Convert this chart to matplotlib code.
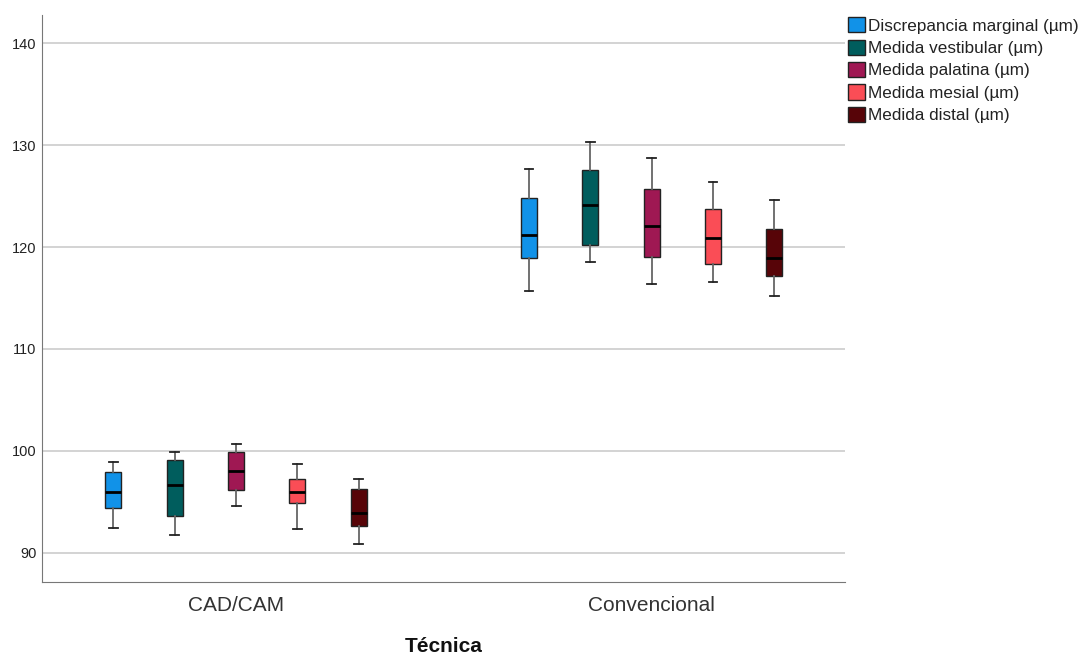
import matplotlib
matplotlib.use('Agg')
import matplotlib.pyplot as plt
from matplotlib.patches import Patch

plt.rcParams['font.family'] = ['Liberation Sans', 'DejaVu Sans']

grupos = ["CAD/CAM", "Convencional"]
series = ["Discrepancia marginal (µm)", "Medida vestibular (µm)", "Medida palatina (µm)",
          "Medida mesial (µm)", "Medida distal (µm)"]
colores = ["#1192e8", "#005d5d", "#9f1853", "#fa4d56", "#570408"]

# [whisker low, Q1, median, Q3, whisker high] per series, per group
cadcam = [
    [92.4, 94.4, 95.95, 97.9, 98.95],
    [91.8, 93.6, 96.7, 99.1, 99.9],
    [94.6, 96.2, 98.0, 99.9, 100.7],
    [92.3, 94.9, 96.0, 97.2, 98.7],
    [90.9, 92.6, 93.95, 96.3, 97.2],
]
convencional = [
    [115.65, 118.9, 121.2, 124.8, 127.65],
    [118.5, 120.15, 124.15, 127.6, 130.3],
    [116.4, 119.0, 122.1, 125.65, 128.75],
    [116.55, 118.3, 120.9, 123.7, 126.4],
    [115.2, 117.2, 118.95, 121.75, 124.65],
]

fig = plt.figure(figsize=(10.8, 6.55), dpi=100)
ax = fig.add_axes([0.0389, 0.1115, 0.7435, 0.8655])

offset = 0.1476
ancho = 0.0385
for g, datos in enumerate([cadcam, convencional]):
    for i, v in enumerate(datos):
        stats = [{"whislo": v[0], "q1": v[1], "med": v[2], "q3": v[3], "whishi": v[4], "fliers": []}]
        ax.bxp(stats, positions=[g + (i - 2) * offset], widths=ancho, patch_artist=True,
               showfliers=False,
               boxprops=dict(facecolor=colores[i], edgecolor="#222222", linewidth=1.0),
               medianprops=dict(color="black", linewidth=2.0),
               whiskerprops=dict(color="#666666", linewidth=1.3),
               capprops=dict(color="#222222", linewidth=1.3), capwidths=ancho * 0.55)

ax.set_xlim(-0.467, 1.465)
ax.set_ylim(87.15, 142.75)
ax.set_xticks([0, 1])
ax.set_xticklabels(grupos, fontsize=15, color="#333333")
ax.set_yticks([90, 100, 110, 120, 130, 140])
ax.tick_params(axis="y", labelsize=10.5, length=0, pad=4, colors="#222222")
ax.tick_params(axis="x", length=0, pad=10)
ax.grid(axis="y", color="#cccccc", linewidth=1.2)
ax.set_axisbelow(True)
for s in ["top", "right"]:
    ax.spines[s].set_visible(False)
for s in ["left", "bottom"]:
    ax.spines[s].set_color("#777777")
ax.set_xlabel("Técnica", fontsize=15, fontweight="bold", labelpad=16, color="#111111")

handles = [Patch(facecolor=c, edgecolor="#222222", label=l) for c, l in zip(colores, series)]
fig.legend(handles=handles, loc="upper left", bbox_to_anchor=(0.785, 0.974), frameon=False,
           fontsize=12.3, handlelength=1.0, handleheight=1.0, handletextpad=0.2,
           labelspacing=0.35, borderaxespad=0, borderpad=0, labelcolor="#222222")

plt.savefig("out.png", dpi=100)
